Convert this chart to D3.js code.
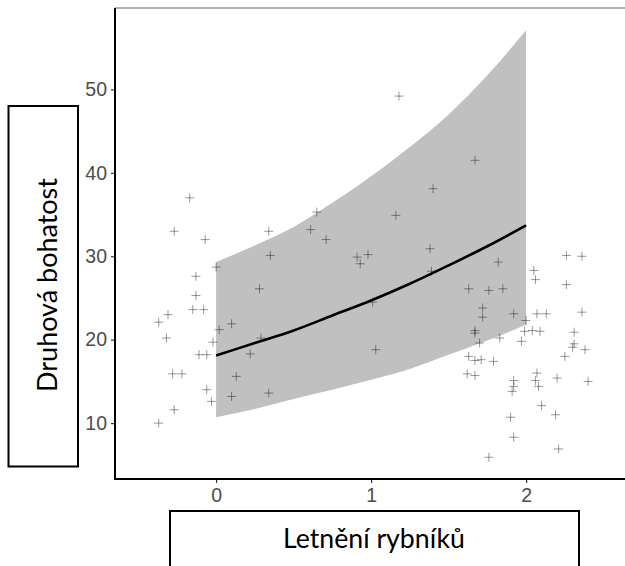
<!DOCTYPE html>
<html>
<head>
<meta charset="utf-8">
<script src="https://cdn.jsdelivr.net/npm/d3@7"></script>
<style>
  html, body { margin: 0; padding: 0; background: #fff; }
  svg { display: block; }
</style>
</head>
<body>
<svg id="chart" width="625" height="566"></svg>
<script>
// observed ponds: summering (x) vs species richness (y)
var pondX = [
  -0.17, -0.27, -0.07, 0.34, 0.61, 0.65, 0.35, 0.00, -0.13, -0.13,
  -0.15, -0.08, -0.31, -0.37, -0.32, 0.28, 0.10, 0.02, -0.02, 0.29,
  -0.11, -0.06, 0.22, -0.28, -0.22, 0.13, -0.06, -0.03, 0.10, 0.34,
  -0.27, -0.37, 1.16, 0.71, 0.91, 0.98, 0.93, 1.01, 1.03, 1.18,
  1.67, 1.40, 1.38, 1.39, 1.82, 2.26, 2.36, 2.05, 2.06, 2.26,
  1.63, 1.76, 1.85, 1.72, 1.72, 1.92, 2.07, 2.13, 2.36, 2.00,
  1.67, 1.67, 1.83, 1.99, 2.04, 2.09, 1.97, 2.31, 1.70, 2.31,
  2.30, 2.38, 2.25, 1.63, 1.67, 1.71, 1.79, 1.62, 1.67, 1.92,
  1.92, 1.91, 2.07, 2.06, 2.08, 2.20, 2.40, 2.10, 1.90, 2.19,
  1.92, 2.21, 1.76
];
var richness = [
  37.0, 33.0, 32.0, 33.0, 33.2, 35.3, 30.1, 28.7, 27.6, 25.3,
  23.6, 23.6, 23.0, 22.1, 20.2, 26.1, 21.9, 21.2, 19.7, 20.2,
  18.2, 18.2, 18.3, 15.9, 15.9, 15.6, 14.0, 12.6, 13.2, 13.6,
  11.6, 10.0, 34.9, 32.0, 29.9, 30.2, 29.1, 24.5, 18.8, 49.2,
  41.5, 38.1, 30.9, 28.2, 29.3, 30.1, 30.0, 28.3, 27.2, 26.6,
  26.1, 25.9, 26.1, 23.8, 22.7, 23.1, 23.1, 23.1, 23.3, 22.3,
  21.1, 20.8, 20.2, 21.0, 21.1, 21.0, 19.8, 20.9, 19.6, 19.5,
  19.1, 18.8, 18.0, 18.0, 17.5, 17.6, 17.4, 15.9, 15.7, 15.1,
  14.4, 13.8, 16.0, 15.1, 14.4, 15.4, 15.0, 12.1, 10.7, 11.0,
  8.3, 6.9, 5.9
];

// fitted curve and confidence band
var fitX = [0, 0.25, 0.5, 0.75, 1, 1.25, 1.5, 1.75, 2];
var fitY = [18.1, 19.6, 21.1, 22.9, 24.7, 26.7, 28.9, 31.2, 33.7];
var bandUpper = [29.3, 31.3, 33.5, 36.4, 39.6, 43.1, 47.0, 51.7, 57.1];
var bandLower = [10.7, 11.7, 12.9, 14.0, 15.2, 16.5, 18.2, 19.9, 21.8];

var xTicks = [0, 1, 2];
var yTicks = [10, 20, 30, 40, 50];
var xTitle = 'Letnění rybníků';
var yTitle = 'Druhová bohatost';

var panel = {left: 115, right: 625, top: 8, bottom: 479};

var svg = d3.select('#chart');

var x = d3.scaleLinear().domain([-0.652, 2.638]).range([panel.left, panel.right]);
var y = d3.scaleLinear().domain([3.3, 59.76]).range([panel.bottom, panel.top]);

var band = fitX.map(function(d, i) { return {x: d, lo: bandLower[i], hi: bandUpper[i], fit: fitY[i]}; });
var pts = pondX.map(function(d, i) { return {x: d, y: richness[i]}; });

svg.append('path')
  .datum(band)
  .attr('fill', '#c0c0c0')
  .attr('d', d3.area()
    .curve(d3.curveMonotoneX)
    .x(function(d) { return x(d.x); })
    .y0(function(d) { return y(d.lo); })
    .y1(function(d) { return y(d.hi); }));

svg.append('path')
  .datum(band)
  .attr('fill', 'none')
  .attr('stroke', '#000')
  .attr('stroke-width', 2.6)
  .attr('d', d3.line()
    .curve(d3.curveMonotoneX)
    .x(function(d) { return x(d.x); })
    .y(function(d) { return y(d.fit); }));

// "+" markers
svg.append('g')
  .selectAll('path.pt')
  .data(pts)
  .enter().append('path')
  .attr('class', 'pt')
  .attr('transform', function(d) { return 'translate(' + x(d.x) + ',' + y(d.y) + ')'; })
  .attr('d', 'M-4.5,0H4.5M0,-4.5V4.5')
  .attr('stroke', '#000')
  .attr('stroke-opacity', 0.4)
  .attr('stroke-width', 1)
  .attr('fill', 'none');

// axes
var yAxis = svg.append('g')
  .attr('transform', 'translate(' + panel.left + ',0)')
  .call(d3.axisLeft(y).tickValues(yTicks).tickSize(4).tickPadding(4).tickFormat(d3.format('d')));
var xAxis = svg.append('g')
  .attr('transform', 'translate(0,' + panel.bottom + ')')
  .call(d3.axisBottom(x).tickValues(xTicks).tickSize(4).tickPadding(5).tickFormat(d3.format('d')));

[yAxis, xAxis].forEach(function(a) {
  a.select('.domain').remove();
  a.selectAll('.tick line').attr('stroke', '#333').attr('stroke-width', 1.2);
  a.selectAll('.tick text')
    .attr('fill', '#4d4d4d')
    .style('font-family', '"Liberation Sans", Arial, sans-serif')
    .style('font-size', '19.5px');
});

svg.append('line')
  .attr('x1', panel.left).attr('x2', panel.right)
  .attr('y1', panel.top).attr('y2', panel.top)
  .attr('stroke', '#999').attr('stroke-width', 1.5);
svg.append('line')
  .attr('x1', panel.left).attr('x2', panel.left)
  .attr('y1', panel.top).attr('y2', panel.bottom)
  .attr('stroke', '#000').attr('stroke-width', 2);
svg.append('line')
  .attr('x1', panel.left - 1).attr('x2', panel.right)
  .attr('y1', panel.bottom).attr('y2', panel.bottom)
  .attr('stroke', '#000').attr('stroke-width', 2);

// title boxes
function fitText(t, len) {
  var l = t.node().getComputedTextLength();
  t.style('font-size', (100 * len / l) + 'px');
}

svg.append('rect')
  .attr('x', 8.5).attr('y', 106).attr('width', 69.5).attr('height', 360.5)
  .attr('fill', '#fff').attr('stroke', '#000').attr('stroke-width', 2);
var yt = svg.append('text')
  .attr('transform', 'translate(57,285) rotate(-90)')
  .attr('text-anchor', 'middle')
  .style('font-family', 'Lato, "Open Sans", sans-serif')
  .style('font-size', '100px')
  .text(yTitle);
fitText(yt, 214);

svg.append('rect')
  .attr('x', 170).attr('y', 511).attr('width', 409).attr('height', 70)
  .attr('fill', '#fff').attr('stroke', '#000').attr('stroke-width', 2);
var xt = svg.append('text')
  .attr('x', 374).attr('y', 548)
  .attr('text-anchor', 'middle')
  .style('font-family', 'Lato, "Open Sans", sans-serif')
  .style('font-size', '100px')
  .text(xTitle);
fitText(xt, 182);
</script>
</body>
</html>
